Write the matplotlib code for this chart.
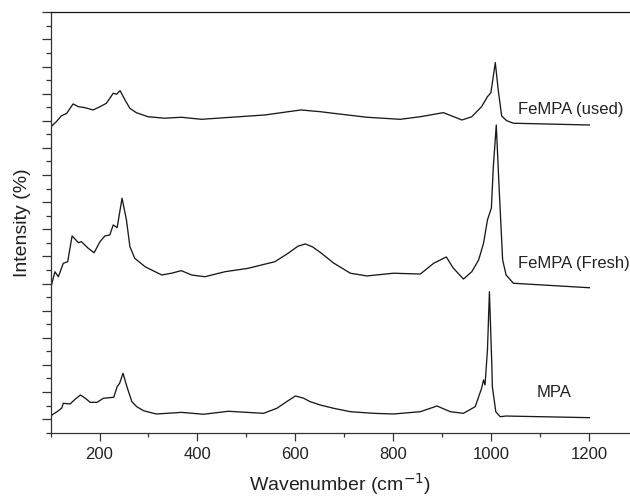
import matplotlib
matplotlib.use("Agg")
import matplotlib.pyplot as plt
from matplotlib.ticker import MultipleLocator, FixedLocator, NullFormatter

plt.rcParams['font.family'] = ['Liberation Sans', 'DejaVu Sans']

# --- data ---
mpa_x = [100, 103, 116, 123, 126, 140, 150, 161, 171, 181, 195, 208, 229, 236, 241, 248, 256,
         266, 276, 290, 316, 368, 412, 463, 535, 562, 582, 600, 617, 630, 651, 678, 712, 759,
         800, 855, 889, 916, 943, 967, 980, 984, 987, 992, 996, 1001, 1002, 1009, 1018, 1030, 1200]
mpa_y = [1.06, 1.31, 1.62, 1.82, 2.17, 2.12, 2.46, 2.78, 2.54, 2.24, 2.24, 2.54, 2.61, 3.39, 3.64,
         4.38, 3.39, 2.29, 1.92, 1.62, 1.38, 1.50, 1.36, 1.58, 1.43, 1.80, 2.29, 2.71, 2.54, 2.29,
         2.04, 1.80, 1.55, 1.43, 1.38, 1.55, 1.97, 1.55, 1.43, 1.92, 3.27, 3.89, 3.52, 6.10, 10.40,
         4.87, 3.39, 1.55, 1.18, 1.23, 1.11]

fresh_x = [101, 109, 116, 126, 135, 144, 157, 163, 177, 189, 201, 211, 221, 228, 236, 246, 255,
           262, 272, 293, 327, 347, 367, 388, 415, 456, 503, 558, 585, 605, 620, 635, 651, 678,
           712, 746, 800, 855, 882, 908, 922, 943, 960, 974, 984, 992, 1000, 1004, 1010, 1016,
           1023, 1030, 1045, 1200]
fresh_y = [10.77, 11.87, 11.50, 12.49, 12.61, 14.51, 14.01, 14.09, 13.60, 13.27, 14.09, 14.51,
           14.58, 15.32, 15.12, 17.29, 15.69, 13.72, 12.86, 12.24, 11.63, 11.76, 11.95, 11.63,
           11.50, 11.87, 12.12, 12.61, 13.23, 13.75, 13.92, 13.70, 13.29, 12.51, 11.76, 11.56,
           11.76, 11.70, 12.49, 12.96, 12.15, 11.33, 11.87, 12.74, 13.97, 15.69, 16.57, 19.62,
           22.69, 17.90, 12.74, 11.63, 11.02, 10.69]

used_x = [101, 112, 122, 133, 140, 146, 157, 170, 187, 201, 214, 228, 235, 242, 252, 262, 275,
          299, 333, 367, 408, 469, 538, 585, 612, 626, 651, 678, 746, 814, 855, 902, 919, 940,
          960, 980, 992, 999, 1008, 1014, 1021, 1031, 1045, 1200]
used_y = [22.57, 22.94, 23.36, 23.55, 23.92, 24.24, 24.04, 23.97, 23.80, 24.04, 24.29, 25.03,
          24.96, 25.22, 24.54, 23.92, 23.60, 23.30, 23.19, 23.26, 23.11, 23.26, 23.43, 23.67,
          23.80, 23.75, 23.67, 23.55, 23.26, 23.11, 23.30, 23.60, 23.36, 23.06, 23.30, 24.04,
          24.78, 25.07, 27.29, 25.27, 23.36, 23.01, 22.82, 22.69]

labels = ["FeMPA (used)", "FeMPA (Fresh)", "MPA"]
label_x = [1054, 1054, 1093]
label_y = [23.8, 12.5, 2.93]

x_major = [200, 400, 600, 800, 1000, 1200]
x_major_labels = ["200", "400", "600", "800", "1000", "1200"]

fig = plt.figure(figsize=(6.3, 4.96), dpi=100)
ax = fig.add_axes([0.0802, 0.1276, 0.9198, 0.8476])

lc = '#1a1a1a'
for xs, ys in [(mpa_x, mpa_y), (fresh_x, fresh_y), (used_x, used_y)]:
    ax.plot(xs, ys, color=lc, lw=0.95, solid_joinstyle='round')

for t, tx, ty in zip(labels, label_x, label_y):
    ax.text(tx, ty, t, fontsize=12, ha='left', va='center', color='#222222')

ax.set_xlim(100, 1283)
ax.set_ylim(0, 31)

ax.xaxis.set_major_locator(FixedLocator(x_major))
ax.set_xticklabels(x_major_labels)
ax.xaxis.set_minor_locator(MultipleLocator(100))
ax.yaxis.set_major_locator(FixedLocator(list(range(1, 32, 2))))
ax.yaxis.set_minor_locator(MultipleLocator(1))
ax.yaxis.set_major_formatter(NullFormatter())

ax.tick_params(axis='x', which='major', direction='out', length=5.5, width=0.9,
               labelsize=12, pad=5, colors='#333333', labelcolor='#222222')
ax.tick_params(axis='x', which='minor', direction='out', length=3, width=0.9, colors='#333333')
ax.tick_params(axis='y', which='major', direction='out', length=6.5, width=0.9, colors='#333333')
ax.tick_params(axis='y', which='minor', direction='out', length=3.6, width=0.9, colors='#333333')

ax.spines['right'].set_visible(False)
for s in ['left', 'bottom', 'top']:
    ax.spines[s].set_linewidth(0.9)
    ax.spines[s].set_color('#333333')
ax.spines['top'].set_color('#111111')

ax.set_xlabel('Wavenumber (cm$^{-1}$)', fontsize=14, color='#222222', labelpad=6)
ax.set_ylabel('Intensity (%)', fontsize=14, color='#222222', labelpad=4)

fig.savefig('out.png', dpi=100)
